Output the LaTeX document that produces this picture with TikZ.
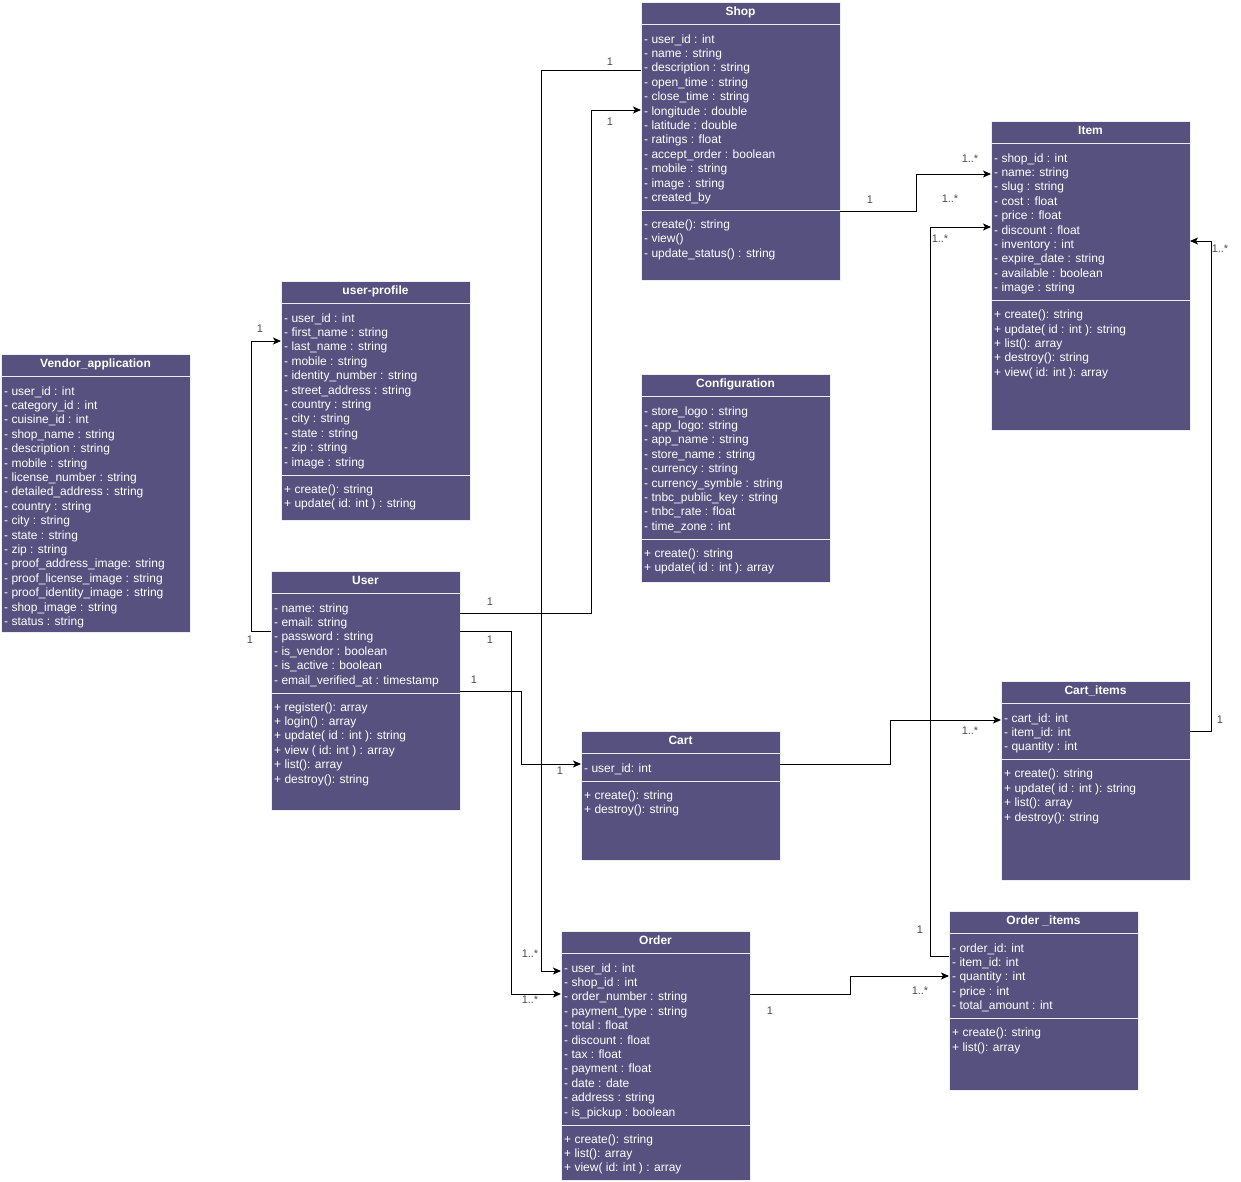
\documentclass[tikz,border=0pt]{standalone}
\usepackage{fontspec}
\setmainfont{Liberation Sans}
\usetikzlibrary{arrows.meta}
\definecolor{classfill}{HTML}{56517E}
\definecolor{classline}{HTML}{EEEEEE}
\definecolor{lblcol}{HTML}{4D4D4D}
\tikzset{
  classbox/.style={rectangle, draw=classline, fill=classfill, line width=1pt, inner sep=0pt, outer sep=0pt, anchor=north west},
  titletext/.style={inner sep=0pt, text=white, font=\fontsize{12}{14.4}\selectfont\bfseries, anchor=base},
  attrtext/.style={inner sep=0pt, text=white, font=\fontsize{12}{14.4}\selectfont, anchor=base west},
  sepline/.style={draw=classline, line width=1pt},
  conn/.style={draw=black, line width=1pt, -{Stealth[length=8pt,width=7pt,inset=2pt]}},
  lbl/.style={inner sep=0pt, text=lblcol, font=\fontsize{11}{13}\selectfont}
}
% #1 name, #2 x, #3 top, #4 width, #5 bottom, #6 title, #7 number of attributes, #8 attributes, #9 methods
\newcommand\umlbox[9]{%
  \node[classbox, minimum width=#4pt, minimum height=#5pt-#3pt] (#1) at (#2,#3) {};
  \node[titletext] (#1-t) at ({#2+#4/2},{#3+13}) {#6};
  \draw[sepline] ({#2},{#3+22.5}) -- ({#2+#4},{#3+22.5});
  \foreach \a [count=\i] in {#8} {\node[attrtext] (#1-a\i) at ({#2+3},{#3+41+(\i-1)*14.4}) {\a};}
  \if\relax\detokenize{#9}\relax\else
    \pgfmathsetmacro\septwo{#3+50+(#7-1)*14.4}
    \draw[sepline] ({#2},\septwo) -- ({#2+#4},\septwo);
    \foreach \m [count=\j] in {#9} {\node[attrtext] (#1-m\j) at ({#2+3},{\septwo+18+(\j-1)*14.4}) {\m};}
  \fi
}
\begin{document}
\begin{tikzpicture}[x=1pt,y=-1pt]
\fill[white] (0,0) rectangle (1241,1181);
\useasboundingbox (0,0) rectangle (1241,1181);

\umlbox{shop}{641}{2}{199}{280}{Shop}{12}{- user\_id : int, - name : string, - description : string, - open\_time : string, - close\_time : string, - longitude : double, - latitude : double, - ratings : float, - accept\_order : boolean, - mobile : string, - image : string, - created\_by}{- create(): string, - view(), - update\_status() : string}

\umlbox{item}{991}{121}{199}{430}{Item}{10}{- shop\_id : int, - name: string, - slug : string, - cost : float, - price : float, - discount : float, - inventory : int, - expire\_date : string, - available : boolean, - image : string}{+ create(): string, + update( id : int ): string, + list(): array, + destroy(): string, + view( id: int ): array}

\umlbox{profile}{281}{281}{189}{520}{user-profile}{11}{- user\_id : int, - first\_name : string, - last\_name : string, - mobile : string, - identity\_number : string, - street\_address : string, - country : string, - city : string, - state : string, - zip : string, - image : string}{+ create(): string, + update( id: int ) : string}

\umlbox{vendor}{1}{354}{189}{632}{Vendor\_application}{17}{- user\_id : int, - category\_id : int, - cuisine\_id : int, - shop\_name : string, - description : string, - mobile : string, - license\_number : string, - detailed\_address : string, - country : string, - city : string, - state : string, - zip : string, - proof\_address\_image: string, - proof\_license\_image : string, - proof\_identity\_image : string, - shop\_image : string, - status : string}{}

\umlbox{config}{641}{374}{189}{582}{Configuration}{9}{- store\_logo : string, - app\_logo: string, - app\_name : string, - store\_name : string, - currency : string, - currency\_symble : string, - tnbc\_public\_key : string, - tnbc\_rate : float, - time\_zone : int}{+ create(): string, + update( id : int ): array}

\umlbox{user}{271}{571}{189}{810}{User}{6}{- name: string, - email: string, - password : string, - is\_vendor : boolean, - is\_active : boolean, - email\_verified\_at : timestamp}{+ register(): array, + login() : array, + update( id : int ): string, + view ( id: int ) : array, + list(): array, + destroy(): string}

\umlbox{cart}{581}{731}{199}{860}{Cart}{1}{- user\_id: int}{+ create(): string, + destroy(): string}

\umlbox{cartitems}{1001}{681}{189}{880}{Cart\_items}{3}{- cart\_id: int, - item\_id: int, - quantity : int}{+ create(): string, + update( id : int ): string, + list(): array, + destroy(): string}

\umlbox{order}{561}{931}{189}{1180}{Order}{11}{- user\_id : int, - shop\_id : int, - order\_number : string, - payment\_type : string, - total : float, - discount : float, - tax : float, - payment : float, - date : date, - address : string, - is\_pickup : boolean}{+ create(): string, + list(): array, + view( id: int ) : array}

\umlbox{orderitems}{949}{911}{189}{1090}{Order \_items}{5}{- order\_id: int, - item\_id: int, - quantity : int, - price : int, - total\_amount : int}{+ create(): string, + list(): array}

% connectors
\draw[conn] (shop.west |- 0,70) -- (541,70) -- (541,971) -- (order.west |- 0,971);
\draw[conn] (user.east |- 0,631) -- (511,631) -- (511,994) -- (order.west |- 0,994);
\draw[conn] (user.east |- 0,613) -- (591,613) -- (591,110) -- (shop.west |- 0,110);
\draw[conn] (user.east |- 0,691) -- (521,691) -- (521,764) -- (cart.west |- 0,764);
\draw[conn] (user.west |- 0,631) -- (251,631) -- (251,341) -- (profile.west |- 0,341);
\draw[conn] (shop.east |- 0,211) -- (916,211) -- (916,174) -- (item.west |- 0,174);
\draw[conn] (orderitems.west |- 0,956) -- (930,956) -- (930,227) -- (item.west |- 0,227);
\draw[conn] (cartitems.east |- 0,731) -- (1211,731) -- (1211,241) -- (item.east |- 0,241);
\draw[conn] (cart.east |- 0,764) -- (890,764) -- (890,720) -- (cartitems.west |- 0,720);
\draw[conn] (order.east |- 0,994) -- (850,994) -- (850,976) -- (orderitems.west |- 0,976);

% multiplicity labels
\node[lbl] (l1) at (610,62) {1};
\node[lbl] (l2) at (610,122) {1};
\node[lbl] (l3) at (870,200) {1};
\node[lbl] (l4) at (970,159) {1..*};
\node[lbl] (l5) at (950,199) {1..*};
\node[lbl] (l6) at (940,239) {1..*};
\node[lbl] (l7) at (1220,249) {1..*};
\node[lbl] (l8) at (260,329) {1};
\node[lbl] (l9) at (490,602) {1};
\node[lbl] (l10) at (250,640) {1};
\node[lbl] (l11) at (490,640) {1};
\node[lbl] (l12) at (474,680) {1};
\node[lbl] (l13) at (560,771) {1};
\node[lbl] (l14) at (970,731) {1..*};
\node[lbl] (l15) at (1220,720) {1};
\node[lbl] (l16) at (920,930) {1};
\node[lbl] (l17) at (530,954) {1..*};
\node[lbl] (l18) at (530,1000) {1..*};
\node[lbl] (l19) at (770,1011) {1};
\node[lbl] (l20) at (920,991) {1..*};
\end{tikzpicture}
\end{document}
